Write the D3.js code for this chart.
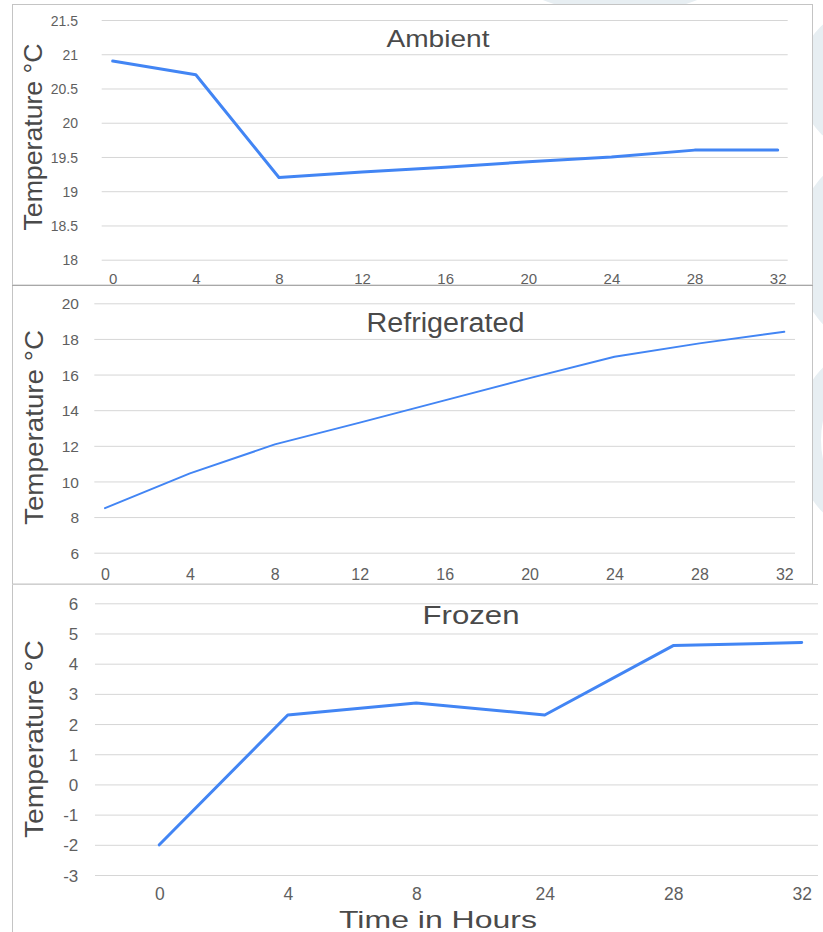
<!DOCTYPE html>
<html><head><meta charset="utf-8">
<script src="https://cdn.jsdelivr.net/npm/d3@7"></script>
<style>
html,body{margin:0;padding:0;background:#fff;}
svg{display:block;font-family:"Liberation Sans",Arial,sans-serif;}
</style></head>
<body>
<svg id="c" width="823" height="932"></svg>
<script>
// ---- data ----
const hours = [0, 4, 8, 12, 16, 20, 24, 28, 32];
const ambient = [20.9, 20.7, 19.2, 19.28, 19.35, 19.43, 19.5, 19.6, 19.6];
const refrigerated = [8.5, 10.45, 12.08, 13.3, 14.55, 15.8, 17.0, 17.75, 18.4];
const frozenHours = ["0", "4", "8", "24", "28", "32"];
const frozen = [-2.0, 2.3, 2.7, 2.3, 4.6, 4.7];
const ambientTicks = [18, 18.5, 19, 19.5, 20, 20.5, 21, 21.5];
const refrigeratedTicks = [6, 8, 10, 12, 14, 16, 18, 20];
const frozenTicks = [-3, -2, -1, 0, 1, 2, 3, 4, 5, 6];
const hourTicks = [0, 4, 8, 12, 16, 20, 24, 28, 32];
const titles = ["Ambient", "Refrigerated", "Frozen"];
const yTitle = "Temperature °C";
const xTitle = "Time in Hours";

const svg = d3.select("#c");
const BLUE = "#4285f4", GRID = "#d6d6d6", TICK = "#5f5f5f", TTL = "#4a4a4a", BORDER = "#c4c4c4";
const fmt = v => String(v);

// faint watermark shapes behind
const wm = svg.append("g").attr("fill", "none").attr("stroke", "#e7eef2");
wm.append("ellipse").attr("cx", 872).attr("cy", 80).attr("rx", 60).attr("ry", 62).attr("stroke-width", 26);
wm.append("ellipse").attr("cx", 880).attr("cy", 250).attr("rx", 70).attr("ry", 85).attr("stroke-width", 30);
wm.append("ellipse").attr("cx", 870).attr("cy", 440).attr("rx", 62).attr("ry", 80).attr("stroke-width", 26);
wm.append("ellipse").attr("cx", 620).attr("cy", -20).attr("rx", 90).attr("ry", 26).attr("stroke-width", 12);

// panel backgrounds / borders
svg.append("rect").attr("x", 12.5).attr("y", 4.5).attr("width", 800).attr("height", 280.5)
  .attr("fill", "#fff").attr("stroke", BORDER);
svg.append("rect").attr("x", 12.5).attr("y", 285.5).attr("width", 800).attr("height", 298.5)
  .attr("fill", "#fff").attr("stroke", BORDER);
svg.append("rect").attr("x", 12.5).attr("y", 584.5).attr("width", 810).attr("height", 350)
  .attr("fill", "#fff").attr("stroke", "none");
svg.append("line").attr("x1", 12.5).attr("x2", 12.5).attr("y1", 584).attr("y2", 932).attr("stroke", BORDER);
svg.append("line").attr("x1", 12).attr("x2", 813).attr("y1", 285.5).attr("y2", 285.5).attr("stroke", "#a8a8a8");
svg.append("line").attr("x1", 12).attr("x2", 818).attr("y1", 584.5).attr("y2", 584.5).attr("stroke", "#d0d0d0");

function panel(cfg) {
  const g = svg.append("g");
  const y = d3.scaleLinear().domain(cfg.yDomain).range(cfg.yRange);
  // gridlines via axis
  const ga = g.append("g").attr("transform", `translate(${cfg.gx0},0)`)
    .call(d3.axisLeft(y).tickValues(cfg.yTicks).tickSize(-(cfg.gx1 - cfg.gx0)).tickFormat(""));
  ga.select(".domain").remove();
  ga.selectAll(".tick line").attr("stroke", GRID).attr("stroke-width", 1);
  // y tick labels
  const yl = g.append("g").attr("transform", `translate(${cfg.ylx},0)`)
    .call(d3.axisLeft(y).tickValues(cfg.yTicks).tickFormat(fmt).tickSize(0).tickPadding(0));
  yl.select(".domain").remove();
  yl.selectAll("text").attr("fill", TICK).attr("font-size", cfg.tickFs)
    .attr("font-family", "Liberation Sans, Arial, sans-serif").attr("dy", "0.36em");
  // x axis labels
  const xa = g.append("g").attr("transform", `translate(0,${cfg.xly})`)
    .call(d3.axisBottom(cfg.x).tickValues(cfg.xTicks).tickFormat(fmt).tickSize(0).tickPadding(0));
  xa.select(".domain").remove();
  xa.selectAll("text").attr("fill", TICK).attr("font-size", cfg.xFs)
    .attr("font-family", "Liberation Sans, Arial, sans-serif").attr("dy", "0").attr("y", 0);
  // line
  const line = d3.line().x((d, i) => cfg.x(cfg.xs[i])).y(d => y(d));
  g.append("path").datum(cfg.values).attr("d", line).attr("fill", "none")
    .attr("stroke", BLUE).attr("stroke-width", cfg.lw).attr("stroke-linejoin", "round").attr("stroke-linecap", "round");
  // title
  g.append("text").attr("x", cfg.tx).attr("y", cfg.ty).attr("text-anchor", "middle")
    .attr("font-size", cfg.tfs).attr("fill", TTL).attr("textLength", cfg.tlen)
    .attr("lengthAdjust", "spacingAndGlyphs").text(cfg.title);
  // y title
  g.append("text").attr("transform", `translate(${cfg.yTx},${cfg.yTy}) rotate(-90)`)
    .attr("text-anchor", "middle").attr("font-size", 25).attr("fill", TTL)
    .attr("textLength", cfg.yTlen).attr("lengthAdjust", "spacingAndGlyphs").text(yTitle);
}

panel({
  yDomain: [18, 21.5], yRange: [259.7, 20], yTicks: ambientTicks,
  gx0: 101.7, gx1: 787.7, ylx: 78, tickFs: 14,
  x: d3.scaleLinear().domain([0, 32]).range([112.7, 777.7]), xTicks: hourTicks, xly: 284, xFs: 15,
  xs: hours, values: ambient, lw: 3,
  title: titles[0], tx: 438, ty: 47, tfs: 24, tlen: 103,
  yTx: 42, yTy: 137, yTlen: 187
});

panel({
  yDomain: [6, 20], yRange: [552.7, 303.3], yTicks: refrigeratedTicks,
  gx0: 94.3, gx1: 795, ylx: 79, tickFs: 15.5,
  x: d3.scaleLinear().domain([0, 32]).range([105, 784.3]), xTicks: hourTicks, xly: 580, xFs: 16,
  xs: hours, values: refrigerated, lw: 2,
  title: titles[1], tx: 445.5, ty: 331.5, tfs: 27, tlen: 158,
  yTx: 42.5, yTy: 427.5, yTlen: 195
});

panel({
  yDomain: [-3, 6], yRange: [875, 603.3], yTicks: frozenTicks,
  gx0: 95, gx1: 818, ylx: 78.3, tickFs: 17,
  x: d3.scalePoint().domain(frozenHours).range([159.3, 801.7]), xTicks: frozenHours, xly: 900, xFs: 17.5,
  xs: frozenHours, values: frozen, lw: 3,
  title: titles[2], tx: 471, ty: 624, tfs: 26, tlen: 97,
  yTx: 43, yTy: 739, yTlen: 198
});

// x axis title
svg.append("text").attr("x", 438).attr("y", 928).attr("text-anchor", "middle")
  .attr("font-size", 24).attr("fill", TTL).attr("textLength", 198)
  .attr("lengthAdjust", "spacingAndGlyphs").text(xTitle);
</script>
</body></html>
